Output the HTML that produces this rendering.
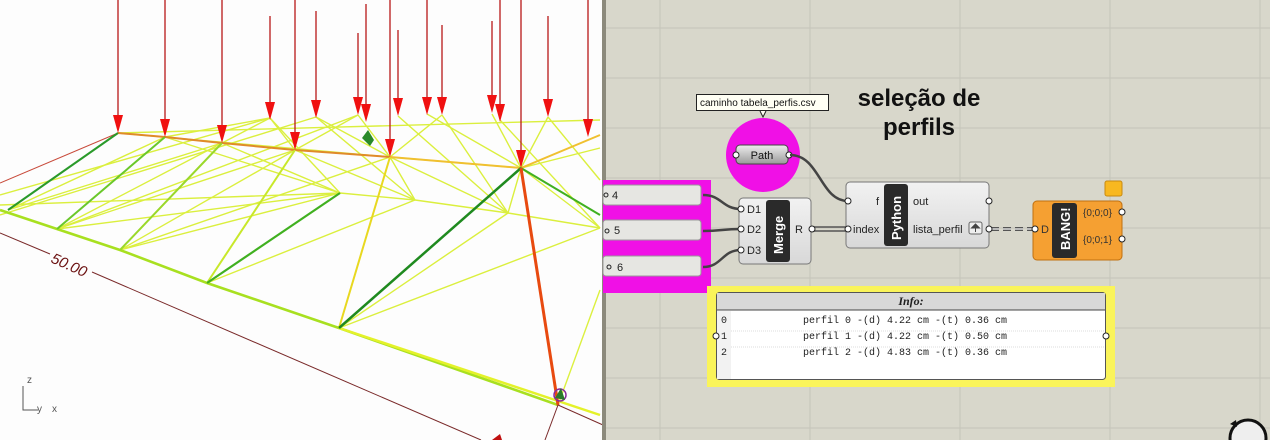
<!DOCTYPE html>
<html><head><meta charset="utf-8"><style>
html,body{margin:0;padding:0;width:1270px;height:440px;overflow:hidden;background:#fff}
svg{display:block}
</style></head><body>
<svg width="1270" height="440" viewBox="0 0 1270 440" xmlns="http://www.w3.org/2000/svg" font-family="Liberation Sans, sans-serif">
<defs>
<pattern id="grid" x="0" y="0" width="150" height="50" patternUnits="userSpaceOnUse">
<rect width="150" height="50" fill="#d8d7cb"/>
<line x1="60" y1="0" x2="60" y2="50" stroke="#c8c7bc" stroke-width="1.2"/>
<line x1="0" y1="28" x2="150" y2="28" stroke="#c8c7bc" stroke-width="1.2"/>
</pattern>
<linearGradient id="btn" x1="0" y1="0" x2="0" y2="1"><stop offset="0" stop-color="#eee"/><stop offset="1" stop-color="#9a9a9a"/></linearGradient>
<linearGradient id="comp" x1="0" y1="0" x2="0" y2="1"><stop offset="0" stop-color="#f2f2f2"/><stop offset="1" stop-color="#d8d8d8"/></linearGradient>
</defs>
<!-- LEFT VIEWPORT -->
<rect x="0" y="0" width="603" height="440" fill="#fdfdfd"/>
<line x1="0" y1="233" x2="50" y2="254" stroke="#7a2a2a" stroke-width="1"/>
<line x1="92" y1="272" x2="481" y2="440" stroke="#7a2a2a" stroke-width="1"/>
<text x="0" y="0" transform="translate(50,262) rotate(24)" font-size="15" fill="#6b1010" font-style="italic">50.00</text>
<line x1="0" y1="183" x2="118" y2="133" stroke="#c84a3a" stroke-width="1"/>
<g stroke="#d8ee2a" stroke-width="1.4" fill="none" opacity="0.9">
<path d="M118 133 L600 120"/><path d="M118 133 L390 157 L521 168 L600 148"/>
<path d="M8 210 L165 137 M8 210 L222 143 M57 229 L222 143 M57 229 L295 150 M120 250 L295 150 M120 250 L390 157"/>
<path d="M0 205 L340 193 L415 200 L508 213 L600 228"/>
<path d="M0 195 L270 118 M0 215 L316 117 M57 229 L358 115"/>
<path d="M207 283 L415 200 M339 328 L508 213 M339 328 L600 228 M558 405 L600 290"/>
<path d="M165 137 L340 193 M222 143 L340 193 M295 150 L415 200 M390 157 L415 200 M390 157 L508 213 M521 168 L508 213 M521 168 L600 228"/>
<path d="M270 118 L340 193 M316 117 L415 200 M398 116 L508 213 M442 115 L508 213 M500 120 L600 228 M548 117 L600 180"/>
<path d="M270 118 L295 150 M316 117 L390 157 M358 115 L390 157 M427 114 L521 168 M492 114 L521 168 M548 117 L521 168"/>
<path d="M222 143 L270 118 M165 137 L270 118 M295 150 L358 115 M390 157 L442 115"/>
<path d="M120 250 L340 193 M57 229 L340 193"/>
</g>
<path d="M0 210 L57 229 L120 250 L207 283 L339 328 L558 405" stroke="#a8e020" stroke-width="2.6" fill="none"/>
<path d="M339 328 L600 415" stroke="#e4f22a" stroke-width="2.5" fill="none"/>
<path d="M118 133 L165 137 L222 143 L295 150 L390 157" stroke="#e08a2a" stroke-width="2" fill="none"/>
<path d="M390 157 L521 168 L600 135" stroke="#f0c030" stroke-width="2" fill="none"/>
<line x1="8" y1="210" x2="118" y2="133" stroke="#2a9a2a" stroke-width="2"/>
<line x1="57" y1="229" x2="165" y2="137" stroke="#6ac82a" stroke-width="2"/>
<line x1="120" y1="250" x2="222" y2="143" stroke="#9ad82a" stroke-width="2"/>
<line x1="207" y1="283" x2="295" y2="150" stroke="#c8e82a" stroke-width="2"/>
<line x1="207" y1="283" x2="340" y2="193" stroke="#40b020" stroke-width="2.2"/>
<line x1="339" y1="328" x2="390" y2="157" stroke="#e8d820" stroke-width="2"/>
<line x1="339" y1="328" x2="521" y2="168" stroke="#1f8a1f" stroke-width="2.5"/>
<line x1="521" y1="168" x2="600" y2="215" stroke="#40b020" stroke-width="2"/>
<line x1="521" y1="168" x2="558" y2="405" stroke="#e84a10" stroke-width="3"/>
<line x1="558" y1="405" x2="545" y2="440" stroke="#7a2a2a" stroke-width="1"/>
<line x1="558" y1="405" x2="603" y2="425" stroke="#7a2a2a" stroke-width="1"/>
<circle cx="560" cy="395" r="6" fill="none" stroke="#8a2a9a" stroke-width="1.5"/>
<path d="M555 398 l6 -10 l4 12 z" fill="#2a7a2a"/>
<path d="M362 138 l6 -8 l6 10 l-4 6 z" fill="#2a8a2a"/>
<path d="M492 440 l8 -6 l2 6 z" fill="#c01010"/>
<g stroke="#b81818" stroke-width="1.3" fill="#f01010">
<line x1="118" y1="0" x2="118" y2="120"/><path d="M113 115 L123 115 L118 133 Z" stroke="none"/>
<line x1="165" y1="0" x2="165" y2="124"/><path d="M160 119 L170 119 L165 137 Z" stroke="none"/>
<line x1="222" y1="0" x2="222" y2="130"/><path d="M217 125 L227 125 L222 143 Z" stroke="none"/>
<line x1="270" y1="16" x2="270" y2="107"/><path d="M265 102 L275 102 L270 120 Z" stroke="none"/>
<line x1="295" y1="0" x2="295" y2="137"/><path d="M290 132 L300 132 L295 150 Z" stroke="none"/>
<line x1="316" y1="11" x2="316" y2="105"/><path d="M311 100 L321 100 L316 118 Z" stroke="none"/>
<line x1="358" y1="33" x2="358" y2="102"/><path d="M353 97 L363 97 L358 115 Z" stroke="none"/>
<line x1="366" y1="4" x2="366" y2="109"/><path d="M361 104 L371 104 L366 122 Z" stroke="none"/>
<line x1="390" y1="0" x2="390" y2="144"/><path d="M385 139 L395 139 L390 157 Z" stroke="none"/>
<line x1="398" y1="30" x2="398" y2="103"/><path d="M393 98 L403 98 L398 116 Z" stroke="none"/>
<line x1="427" y1="0" x2="427" y2="102"/><path d="M422 97 L432 97 L427 115 Z" stroke="none"/>
<line x1="442" y1="25" x2="442" y2="102"/><path d="M437 97 L447 97 L442 115 Z" stroke="none"/>
<line x1="492" y1="21" x2="492" y2="100"/><path d="M487 95 L497 95 L492 113 Z" stroke="none"/>
<line x1="500" y1="0" x2="500" y2="109"/><path d="M495 104 L505 104 L500 122 Z" stroke="none"/>
<line x1="521" y1="0" x2="521" y2="155"/><path d="M516 150 L526 150 L521 168 Z" stroke="none"/>
<line x1="548" y1="16" x2="548" y2="104"/><path d="M543 99 L553 99 L548 117 Z" stroke="none"/>
<line x1="588" y1="0" x2="588" y2="124"/><path d="M583 119 L593 119 L588 137 Z" stroke="none"/>
</g>
<path d="M23 386 V410 H38" stroke="#555" fill="none" stroke-width="1"/>
<text x="27" y="383" font-size="10" fill="#555">z</text>
<text x="37" y="412" font-size="10" fill="#555">y</text>
<text x="52" y="412" font-size="10" fill="#555">x</text>

<!-- RIGHT CANVAS -->
<rect x="603" y="0" width="667" height="440" fill="url(#grid)"/>
<rect x="602" y="0" width="4" height="440" fill="#8c8a7c"/>
<text x="919" y="106" font-size="24" text-anchor="middle" fill="#111" font-weight="bold">seleção de</text>
<text x="919" y="135" font-size="24" text-anchor="middle" fill="#111" font-weight="bold">perfils</text>
<rect x="696.5" y="94.5" width="132" height="16" fill="#fffff4" stroke="#222"/>
<text x="700" y="106" font-size="10" fill="#111">caminho tabela_perfis.csv</text>
<circle cx="763" cy="155" r="37" fill="#f010e6"/>
<path d="M760 111 l3 6 l3 -6" fill="#fffff4" stroke="#222"/>
<rect x="736" y="145" width="52" height="19" rx="4" fill="url(#btn)" stroke="#444"/>
<text x="762" y="159" font-size="11" text-anchor="middle" fill="#111">Path</text>
<circle cx="736" cy="155" r="3" fill="#fff" stroke="#222"/>
<circle cx="789" cy="155" r="3" fill="#fff" stroke="#222"/>

<rect x="603" y="180" width="108" height="113" fill="#f010e6"/>
<g font-size="11" fill="#222">
<rect x="603" y="185" width="98" height="20" rx="3" fill="#e6e6e2" stroke="#999"/>
<text x="612" y="199">4</text><circle cx="606" cy="195" r="2" fill="none" stroke="#222"/>
<rect x="603" y="220" width="98" height="20" rx="3" fill="#e6e6e2" stroke="#999"/>
<text x="614" y="234">5</text><circle cx="607" cy="231" r="2" fill="none" stroke="#222"/>
<rect x="603" y="256" width="98" height="20" rx="3" fill="#e6e6e2" stroke="#999"/>
<text x="617" y="271">6</text><circle cx="609" cy="267" r="2" fill="none" stroke="#222"/>
</g>

<g stroke="#444" stroke-width="2.5" fill="none">
<path d="M703 195 C722 195 722 209 741 209"/>
<path d="M703 231 C722 231 722 229 741 229"/>
<path d="M703 267 C722 267 722 250 741 250"/>
<path d="M790 155 C820 155 820 201 848 201"/>
</g>
<path d="M813 227 H848 M813 231 H848" stroke="#555" stroke-width="1.5"/>
<path d="M991 229 H1035" stroke="#555" stroke-width="4" stroke-dasharray="8 4"/>
<path d="M991 229 H1035" stroke="#ddd" stroke-width="1.5" stroke-dasharray="8 4"/>

<rect x="739" y="198" width="72" height="66" rx="4" fill="url(#comp)" stroke="#777"/>
<rect x="766" y="200" width="24" height="62" rx="3" fill="#2a2a2a"/>
<text transform="translate(783,254) rotate(-90)" font-size="13" font-weight="bold" fill="#fff">Merge</text>
<g font-size="11" fill="#222"><text x="747" y="213">D1</text><text x="747" y="233">D2</text><text x="747" y="254">D3</text><text x="795" y="233">R</text></g>
<circle cx="741" cy="209" r="3" fill="#fff" stroke="#222"/><circle cx="741" cy="229" r="3" fill="#fff" stroke="#222"/><circle cx="741" cy="250" r="3" fill="#fff" stroke="#222"/><circle cx="812" cy="229" r="3" fill="#fff" stroke="#222"/>

<rect x="846" y="182" width="143" height="66" rx="4" fill="url(#comp)" stroke="#777"/>
<rect x="884" y="184" width="24" height="62" rx="3" fill="#2a2a2a"/>
<text transform="translate(901,240) rotate(-90)" font-size="13" font-weight="bold" fill="#fff">Python</text>
<g font-size="11" fill="#222"><text x="876" y="205">f</text><text x="853" y="233">index</text><text x="913" y="205">out</text><text x="913" y="233">lista_perfil</text></g>
<rect x="969" y="222" width="13" height="12" rx="2" fill="#eee" stroke="#666"/>
<path d="M975.5 224 l-4 4 h8 z M975.5 227 v5" stroke="#444" fill="#444"/>
<circle cx="848" cy="201" r="3" fill="#fff" stroke="#222"/><circle cx="848" cy="229" r="3" fill="#fff" stroke="#222"/><circle cx="989" cy="201" r="3" fill="#fff" stroke="#222"/><circle cx="989" cy="229" r="3" fill="#fff" stroke="#222"/>

<rect x="1105" y="181" width="17" height="15" rx="2" fill="#f8b820" stroke="#c88a10"/>
<rect x="1033" y="201" width="89" height="59" rx="4" fill="#f5a032" stroke="#c07010"/>
<rect x="1052" y="203" width="25" height="55" rx="3" fill="#2a2a2a"/>
<text transform="translate(1070,250) rotate(-90)" font-size="13" font-weight="bold" fill="#fff">BANG!</text>
<g font-size="10" fill="#333"><text x="1041" y="233" font-size="11">D</text><text x="1083" y="216">{0;0;0}</text><text x="1083" y="243">{0;0;1}</text></g>
<circle cx="1035" cy="229" r="3" fill="#fff" stroke="#222"/><circle cx="1122" cy="212" r="3" fill="#fff" stroke="#222"/><circle cx="1122" cy="239" r="3" fill="#fff" stroke="#222"/>

<rect x="707" y="286" width="408" height="101" fill="#faf45a"/>
<rect x="716.5" y="292.5" width="389" height="87" rx="3" fill="#fff" stroke="#555"/>
<rect x="717" y="293" width="388" height="17" fill="#d8d8d8"/>
<line x1="717" y1="310" x2="1105" y2="310" stroke="#444"/>
<rect x="717" y="311" width="14" height="68" fill="#f2f2f2"/>
<text x="911" y="305" font-size="12" text-anchor="middle" style="font-family:'Liberation Serif',serif;font-style:italic;font-weight:bold" fill="#222">Info:</text>
<g font-size="10" fill="#222" style="font-family:'Liberation Mono',monospace">
<text x="721" y="323">0</text><text x="803" y="323">perfil 0 -(d) 4.22 cm -(t) 0.36 cm</text>
<text x="721" y="339">1</text><text x="803" y="339">perfil 1 -(d) 4.22 cm -(t) 0.50 cm</text>
<text x="721" y="355">2</text><text x="803" y="355">perfil 2 -(d) 4.83 cm -(t) 0.36 cm</text>
</g>
<line x1="731" y1="331" x2="1105" y2="331" stroke="#ddd" stroke-dasharray="1 1"/>
<line x1="731" y1="347" x2="1105" y2="347" stroke="#ddd" stroke-dasharray="1 1"/>
<circle cx="716" cy="336" r="3" fill="#fff" stroke="#222"/><circle cx="1106" cy="336" r="3" fill="#fff" stroke="#222"/>

<circle cx="1248" cy="438" r="18" fill="#eee" stroke="#111" stroke-width="3"/>
<path d="M1230 424 l6 -4 l1 7 z" fill="#111"/>
</svg>
</body></html>
